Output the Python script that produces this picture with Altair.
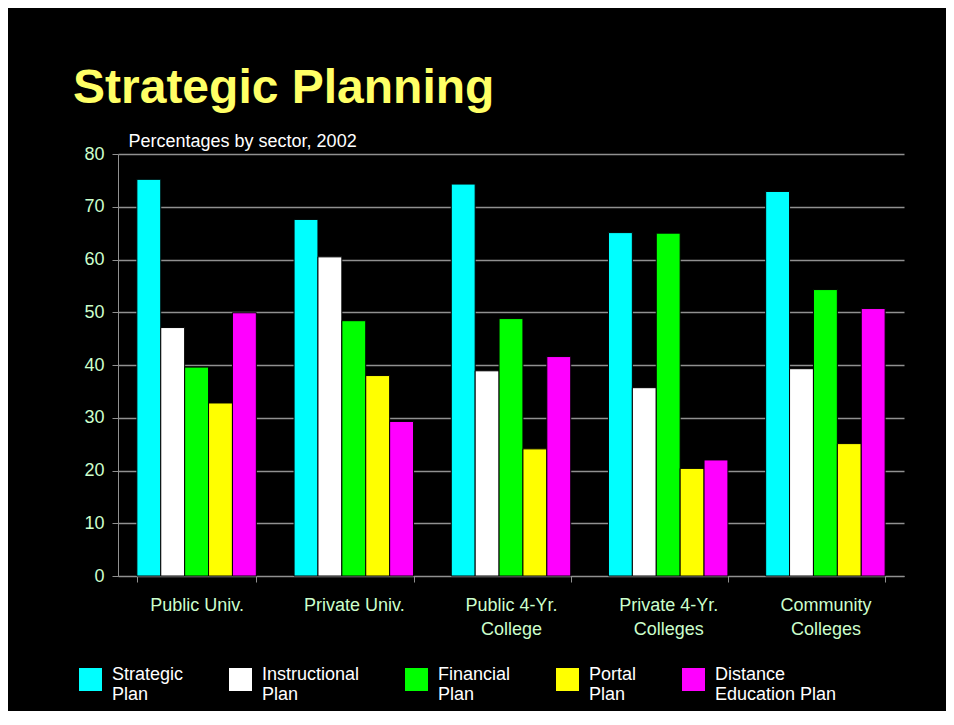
import altair as alt
import pandas as pd

sectors = ["Public Univ.", "Private Univ.", "Public 4-Yr. College",
           "Private 4-Yr. Colleges", "Community Colleges"]
sector_lines = [["Public Univ."], ["Private Univ."], ["Public 4-Yr.", "College"],
                ["Private 4-Yr.", "Colleges"], ["Community", "Colleges"]]
plans = ["Strategic Plan", "Instructional Plan", "Financial Plan",
         "Portal Plan", "Distance Education Plan"]
plan_lines = [["Strategic", "Plan"], ["Instructional", "Plan"], ["Financial", "Plan"],
              ["Portal", "Plan"], ["Distance", "Education Plan"]]

strategic = [75.2, 67.6, 74.3, 65.1, 72.9]
instructional = [47.1, 60.5, 38.9, 35.7, 39.3]
financial = [39.6, 48.4, 48.8, 65.0, 54.3]
portal = [32.8, 38.0, 24.1, 20.4, 25.1]
distance = [49.9, 29.3, 41.6, 22.0, 50.7]
colors = ["#00FFFF", "#FFFFFF", "#00FF00", "#FFFF00", "#FF00FF"]
y_ticks = [0, 10, 20, 30, 40, 50, 60, 70, 80]

series = [strategic, instructional, financial, portal, distance]
rows = []
for plan, vals in zip(plans, series):
    for sec, v in zip(sectors, vals):
        rows.append({"sector": sec, "plan": plan, "value": v})
df = pd.DataFrame(rows)


def lines_expr(names, lines):
    expr = "datum.label"
    for n, l in zip(reversed(names), reversed(lines)):
        arr = "[" + ",".join("'" + s + "'" for s in l) + "]"
        expr = "datum.label == '" + n + "' ? " + arr + " : (" + expr + ")"
    return expr


FONT = "Liberation Sans"

chart = alt.Chart(df).mark_bar(stroke="#000000", strokeWidth=1).encode(
    x=alt.X("sector:N", sort=sectors,
            scale=alt.Scale(paddingInner=0.24, paddingOuter=0.12),
            axis=alt.Axis(title=None, labelAngle=0, tickBand="extent",
                          labelExpr=lines_expr(sectors, sector_lines),
                          labelColor="#CCFFCC", labelFontSize=18, labelFont=FONT,
                          labelLineHeight=24, labelBaseline="top", labelPadding=14,
                          domainColor="#909090", tickColor="#909090", tickSize=6,
                          labelLimit=0, grid=False)),
    xOffset=alt.XOffset("plan:N", sort=plans, scale=alt.Scale(paddingInner=0, paddingOuter=0)),
    y=alt.Y("value:Q", scale=alt.Scale(domain=[0, 80], nice=False),
            axis=alt.Axis(title="Percentages by sector, 2002", values=y_ticks,
                          titleAngle=0, titleAlign="left", titleBaseline="alphabetic",
                          titleX=10, titleY=-8, titleColor="#FFFFFF",
                          titleFontSize=18, titleFontWeight="normal", titleFont=FONT,
                          labelColor="#CCFFCC", labelFontSize=18, labelFont=FONT,
                          labelPadding=8, tickSize=6, tickColor="#909090",
                          domainColor="#909090", gridColor="#909090", gridWidth=1.5)),
    color=alt.Color("plan:N", sort=plans,
                    scale=alt.Scale(domain=plans, range=colors),
                    legend=alt.Legend(title=None, orient="none", legendX=-39, legendY=514,
                                      direction="horizontal", symbolType="square",
                                      symbolSize=529, symbolStrokeWidth=0,
                                      labelExpr=lines_expr(plans, plan_lines),
                                      labelFontSize=18, labelFont=FONT, labelColor="#FFFFFF",
                                      labelOffset=10, labelLimit=0, labelBaseline="alphabetic",
                                      columnPadding=45, gridAlign="none")),
).properties(
    width=786,
    height=422,
    title=alt.TitleParams("Strategic Planning", anchor="start", frame="group", dx=-45,
                          dy=45, fontSize=48, fontWeight="bold", font=FONT, color="#FFFF66",
                          baseline="alphabetic", offset=26),
    autosize=alt.AutoSizeParams(type="none"),
    padding={"left": 110, "top": 146, "right": 42, "bottom": 135},
    background="#000000",
).configure_view(stroke=None)

chart.save("out.html", embed_options={"renderer": "svg", "actions": False})
